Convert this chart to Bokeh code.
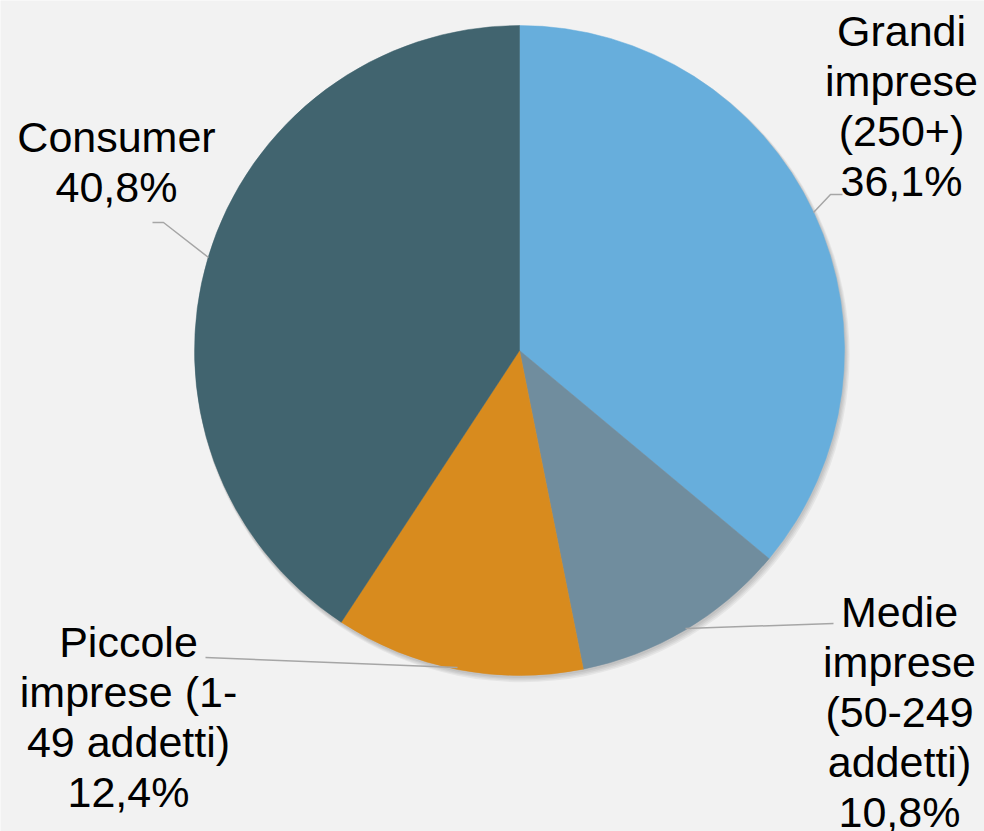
import math
from bokeh.plotting import figure
from bokeh.models import Range1d, ColumnDataSource
from bokeh.core.properties import value
from bokeh.embed import file_html
from bokeh.resources import INLINE

# ---- data ----
categories = ["Grandi imprese (250+)", "Medie imprese (50-249 addetti)",
              "Piccole imprese (1-49 addetti)", "Consumer"]
shares = [36.1, 10.8, 12.4, 40.8]
colors = ["#67AEDC", "#708D9E", "#D88B1E", "#41646F"]
label_lines = [
    ["Grandi", "imprese", "(250+)", "36,1%"],
    ["Medie", "imprese", "(50-249", "addetti)", "10,8%"],
    ["Piccole", "imprese (1-", "49 addetti)", "12,4%"],
    ["Consumer", "40,8%"],
]

# ---- layout (screen-pixel style coordinates; data y = -screen y) ----
W, H = 984, 831
cx, cy, R = 519, -350, 325
label_anchor = [(901, -30), (899, -611), (128, -641), (116, -136)]
line_step = 50
leaders = [
    [(813, 212), (830, 194), (842, 194)],
    [(685, 628), (833, 623)],
    [(457, 667), (205, 657)],
    [(208, 257), (163, 222), (152, 222)],
]

p = figure(width=W, height=H, output_backend="svg", toolbar_location=None,
           x_range=Range1d(0, W), y_range=Range1d(-H, 0),
           min_border=0, background_fill_color="#F2F2F2",
           border_fill_color="#F2F2F2", outline_line_color=None)
p.axis.visible = False
p.grid.visible = False

# soft shadow
for i, a in enumerate([0.05, 0.05, 0.05, 0.05]):
    p.circle(x=[cx + 1 + i * 0.6], y=[cy - 2 - i * 0.8], radius=R + 0.5 + i * 0.6,
             fill_color="#000000", fill_alpha=a, line_color=None)

total = sum(shares)
starts, ends = [], []
cum = 0.0
for s in shares:
    starts.append(math.pi / 2 - 2 * math.pi * cum / total)
    cum += s
    ends.append(math.pi / 2 - 2 * math.pi * cum / total)

src = ColumnDataSource(dict(x=[cx] * 4, y=[cy] * 4, start=starts, end=ends,
                            color=colors, cat=categories, share=shares))
p.wedge(x="x", y="y", radius=R, start_angle="start", end_angle="end",
        direction="clock", fill_color="color", line_color="color",
        line_width=0.5, source=src)

for pts in leaders:
    p.line(x=[q[0] for q in pts], y=[-q[1] for q in pts],
           line_color="#A6A6A6", line_width=1.5)

tx, ty, tt = [], [], []
for (ax, ay), lines in zip(label_anchor, label_lines):
    for k, t in enumerate(lines):
        tx.append(ax)
        ty.append(ay - k * line_step)
        tt.append(t)
p.text(x=tx, y=ty, text=tt, text_align="center", text_baseline="alphabetic",
       text_font=value("Liberation Sans"), text_font_size="43px",
       text_color="#000000")

open("out.html", "w").write(file_html(p, INLINE))
